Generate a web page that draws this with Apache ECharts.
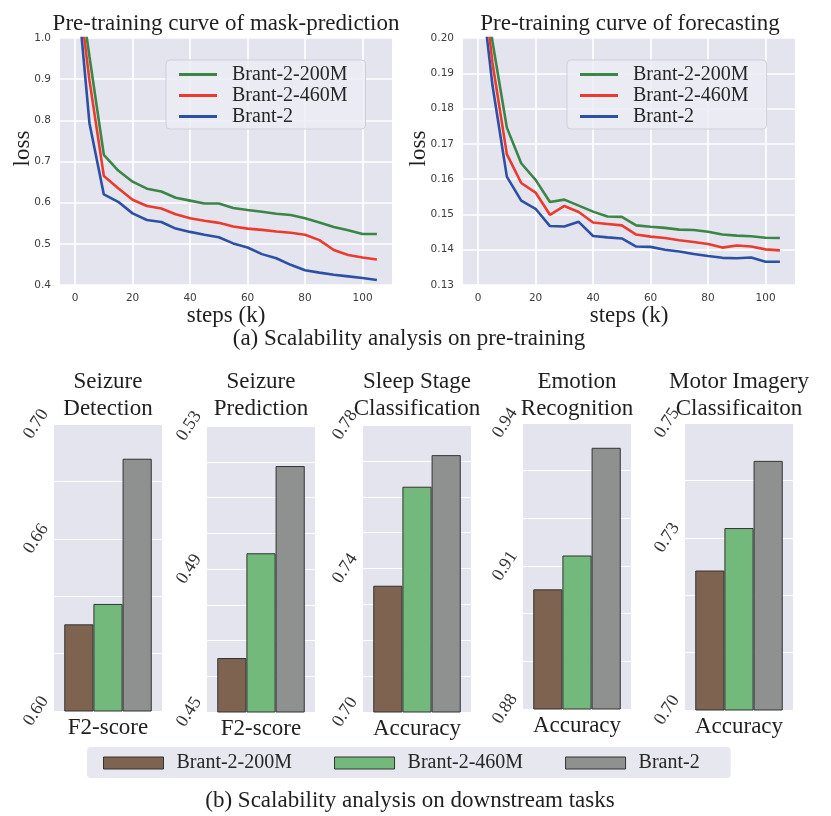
<!DOCTYPE html>
<html lang="en">
<head>
<meta charset="UTF-8">
<title>Scalability analysis</title>
<style>
html,body{margin:0;padding:0;background:#fff;}
#chart{width:831px;height:816px;}
</style>
</head>
<body>
<div id="chart"></div>
<script src="https://cdn.jsdelivr.net/npm/echarts@6/dist/echarts.min.js"></script>
<script>
// ---- data ----
var modelNames = ['Brant-2-200M', 'Brant-2-460M', 'Brant-2'];
var steps = [0, 5, 10, 15, 20, 25, 30, 35, 40, 45, 50, 55, 60, 65, 70, 75, 80, 85, 90, 95, 100, 105];
var xTicks = [0, 20, 40, 60, 80, 100];

// mask-prediction loss
var mask200 = [1.20, 0.955, 0.716, 0.678, 0.651, 0.634, 0.627, 0.612, 0.605, 0.598, 0.598, 0.587, 0.582, 0.578, 0.573, 0.570, 0.562, 0.552, 0.541, 0.533, 0.524, 0.524];
var mask460 = [1.18, 0.897, 0.665, 0.635, 0.607, 0.592, 0.586, 0.572, 0.562, 0.556, 0.551, 0.542, 0.537, 0.534, 0.530, 0.527, 0.522, 0.509, 0.485, 0.473, 0.467, 0.462];
var maskFull = [1.176, 0.793, 0.620, 0.602, 0.574, 0.558, 0.553, 0.537, 0.529, 0.522, 0.516, 0.501, 0.491, 0.475, 0.465, 0.449, 0.436, 0.430, 0.425, 0.421, 0.417, 0.412];

// forecasting loss
var fore200 = [0.230, 0.199, 0.1746, 0.1645, 0.1598, 0.1535, 0.1542, 0.1525, 0.1508, 0.1494, 0.1493, 0.1469, 0.1465, 0.1462, 0.1457, 0.1456, 0.1451, 0.1443, 0.1440, 0.1438, 0.1434, 0.1433];
var fore460 = [0.228, 0.193, 0.1671, 0.1589, 0.1562, 0.1499, 0.1524, 0.1507, 0.1477, 0.1473, 0.1469, 0.1443, 0.1437, 0.1433, 0.1427, 0.1422, 0.1416, 0.1406, 0.1412, 0.1409, 0.1401, 0.1398];
var foreFull = [0.222, 0.1866, 0.1607, 0.1539, 0.1516, 0.1467, 0.1466, 0.1479, 0.1439, 0.1435, 0.1432, 0.1409, 0.1408, 0.1400, 0.1395, 0.1388, 0.1382, 0.1377, 0.1376, 0.1378, 0.1366, 0.1366];

// downstream tasks
var tasks = ['Seizure\nDetection', 'Seizure\nPrediction', 'Sleep Stage\nClassification', 'Emotion\nRecognition', 'Motor Imagery\nClassificaiton'];
var metrics = ['F2-score', 'F2-score', 'Accuracy', 'Accuracy', 'Accuracy'];
var bar200 = [0.6302, 0.4651, 0.7352, 0.9051, 0.7243];
var bar460 = [0.6373, 0.4944, 0.7628, 0.9122, 0.7317];
var barFull = [0.6879, 0.5188, 0.7716, 0.9348, 0.7434];
var yMins = [0.60, 0.45, 0.70, 0.88, 0.70];
var yMaxs = [0.70, 0.53, 0.78, 0.94, 0.75];
var ySteps = [0.02, 0.01, 0.01, 0.01, 0.01];
var yLabels = [[0.60, 0.66, 0.70], [0.45, 0.49, 0.53], [0.70, 0.74, 0.78], [0.88, 0.91, 0.94], [0.70, 0.73, 0.75]];

// ---- style ----
var serif = 'Liberation Serif';
var sans = 'DejaVu Sans';
var plotBg = '#e4e4ee';
var lineColors = ['#3b8546', '#ec3a2e', '#2c51a4'];
var barColors = ['#7f6351', '#72b97b', '#8f9090'];
var textColor = '#1f1f1f';

var myChart = echarts.init(document.getElementById('chart'));

function pairs(xs, ys) {
    return xs.map(function (x, i) { return [x, ys[i]]; });
}

function centeredTitle(text, cx, top) {
    return { text: text, left: cx, top: top, textAlign: 'center', padding: 0,
        textStyle: { fontFamily: serif, fontSize: 23, fontWeight: 'normal', color: textColor, lineHeight: 26.5 } };
}

var grids = [], xAxes = [], yAxes = [], series = [], titles = [];

// top line charts
var topCharts = [
    { title: 'Pre-training curve of mask-prediction', left: 60, cx: 226, data: [mask200, mask460, maskFull],
      min: 0.4, max: 1.0, step: 0.1, digits: 1, nameGap: 26 },
    { title: 'Pre-training curve of forecasting', left: 463, cx: 630, data: [fore200, fore460, foreFull],
      min: 0.13, max: 0.20, step: 0.01, digits: 2, nameGap: 33 }
];
topCharts.forEach(function (c, k) {
    grids.push({ left: c.left, top: 38, width: 332, height: 247, show: true, backgroundColor: plotBg, borderWidth: 0 });
    xAxes.push({
        gridIndex: k, type: 'value', min: -5.25, max: 110.25,
        name: 'steps (k)', nameLocation: 'middle', nameGap: 17,
        nameTextStyle: { fontFamily: serif, fontSize: 23, color: textColor },
        axisLine: { show: false },
        axisTick: { show: false, customValues: xTicks },
        axisLabel: { customValues: xTicks, fontFamily: sans, fontSize: 10.5, color: '#3d3d3d', margin: 8 },
        splitLine: { show: true, lineStyle: { color: '#ffffff', width: 1.6 } }
    });
    yAxes.push({
        gridIndex: k, type: 'value', min: c.min, max: c.max, interval: c.step,
        name: 'loss', nameLocation: 'middle', nameGap: c.nameGap, nameMoveOverlap: false,
        nameTextStyle: { fontFamily: serif, fontSize: 23, color: textColor, padding: [0, 0, 0, 26] },
        axisLine: { show: false }, axisTick: { show: false },
        axisLabel: { fontFamily: sans, fontSize: 10.5, color: '#3d3d3d', margin: 9,
            formatter: (function (d) { return function (v) { return v.toFixed(d); }; })(c.digits) },
        splitLine: { show: true, lineStyle: { color: '#ffffff', width: 1.6 } }
    });
    c.data.forEach(function (ys, i) {
        series.push({
            name: modelNames[i], type: 'line', xAxisIndex: k, yAxisIndex: k,
            symbol: 'none', clip: true, z: 3 - i + 2,
            lineStyle: { color: lineColors[i], width: 2.6 },
            itemStyle: { color: lineColors[i] },
            data: pairs(steps, ys)
        });
    });
    titles.push(centeredTitle(c.title, c.cx, 11));
});

// bottom bar charts
var barLefts = [54, 207, 363, 523, 685];
var barTops = [424, 426, 425, 423, 423];
var barHeights = [287, 286, 287, 286, 287];
tasks.forEach(function (task, t) {
    var g = grids.length;
    grids.push({ left: barLefts[t], top: barTops[t], width: 108, height: barHeights[t],
        show: true, backgroundColor: plotBg, borderWidth: 0 });
    xAxes.push({
        gridIndex: g, type: 'category', data: [metrics[t]],
        axisLine: { show: false }, axisTick: { show: false },
        axisLabel: { fontFamily: serif, fontSize: 23, color: textColor, margin: 5 },
        splitLine: { show: false }
    });
    yAxes.push({
        gridIndex: g, type: 'value', min: yMins[t], max: yMaxs[t], interval: ySteps[t],
        axisLine: { show: false }, axisTick: { show: false },
        axisLabel: {
            rotate: 57, margin: 18, align: 'center', verticalAlign: 'middle',
            fontFamily: serif, fontSize: 18, color: '#333333',
            showMinLabel: true, showMaxLabel: true, hideOverlap: false,
            formatter: (function (labels) {
                return function (v) {
                    return labels.some(function (l) { return Math.abs(l - v) < 1e-6; }) ? v.toFixed(2) : '';
                };
            })(yLabels[t])
        },
        splitLine: { show: true, lineStyle: { color: '#ffffff', width: 1 } }
    });
    [bar200, bar460, barFull].forEach(function (vals, i) {
        series.push({
            name: modelNames[i], type: 'bar', xAxisIndex: g, yAxisIndex: g,
            barGap: '0%', barCategoryGap: '19%', clip: true,
            itemStyle: { color: barColors[i], borderColor: '#333333', borderWidth: 1 },
            data: [vals[t]]
        });
    });
    titles.push(centeredTitle(task, barLefts[t] + 54, 369));
});

titles.push(centeredTitle('(a) Scalability analysis on pre-training', 409, 326));
titles.push(centeredTitle('(b) Scalability analysis on downstream tasks', 410, 788));

function lineLegend(left) {
    return {
        orient: 'vertical', left: left, top: 60, selectedMode: false,
        data: modelNames.map(function (n, i) {
            return { name: n, icon: 'rect', itemStyle: { color: lineColors[i], borderWidth: 0 } };
        }),
        itemWidth: 38, itemHeight: 3, itemGap: 0,
        padding: [4, 18, 2, 13],
        backgroundColor: 'rgba(236,236,244,0.85)', borderColor: '#cfcfd9', borderWidth: 1, borderRadius: 4,
        textStyle: { fontFamily: serif, fontSize: 20, lineHeight: 21, color: '#262626', padding: [0, 0, 0, 10] }
    };
}

var option = {
    backgroundColor: '#ffffff',
    animation: false,
    title: titles,
    legend: [
        lineLegend(166),
        lineLegend(567),
        {
            orient: 'horizontal', left: 87, top: 747, selectedMode: false,
            data: modelNames.map(function (n, i) {
                return { name: n, icon: 'rect', itemStyle: { color: barColors[i], borderColor: '#333333', borderWidth: 1 } };
            }),
            itemWidth: 60, itemHeight: 12, itemGap: 42,
            padding: [5, 31, 4, 16],
            backgroundColor: '#e7e7f0', borderWidth: 0, borderRadius: 4,
            textStyle: { fontFamily: serif, fontSize: 20, lineHeight: 22, color: '#262626', padding: [0, 0, 0, 8] }
        }
    ],
    grid: grids,
    xAxis: xAxes,
    yAxis: yAxes,
    series: series
};
myChart.setOption(option);
</script>
</body>
</html>
